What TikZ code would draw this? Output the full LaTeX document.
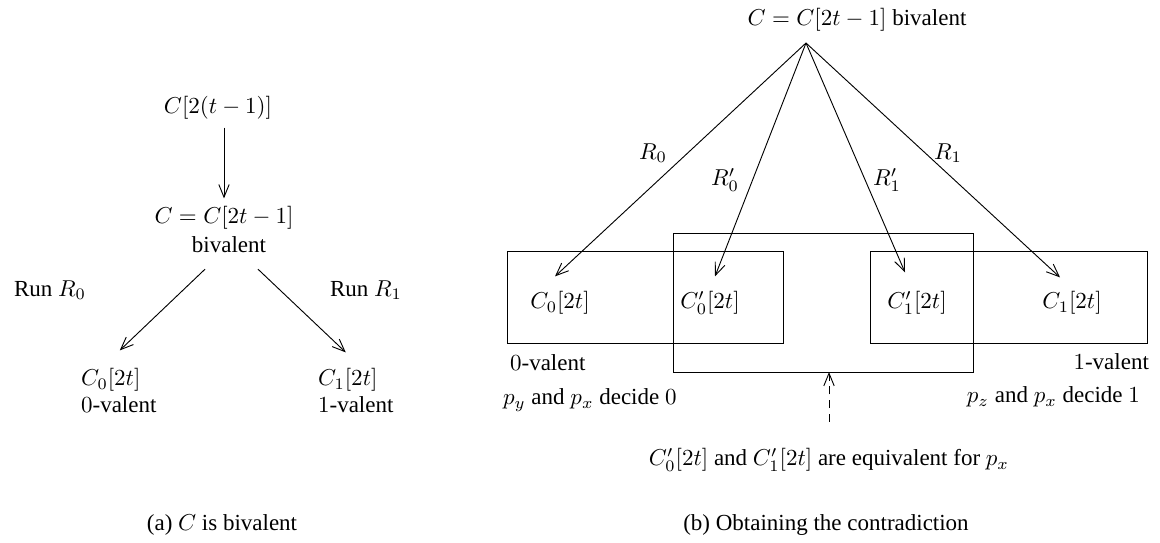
\documentclass[tikz,border=0pt]{standalone}
\usepackage[no-math]{fontspec}
\setmainfont{Liberation Serif}
\usetikzlibrary{arrows.meta}

\begin{document}
\begin{tikzpicture}[x=0.435pt,y=-0.435pt,
  arr/.style={-{Straight Barb[length=5.5pt,width=4.5pt]}},
  runbox/.style={draw}]
\useasboundingbox (0,0) rectangle (1160,543);

% (a) C is bivalent
\node (prev) at (218,108) {$C[2(t-1)]$};
\node (cur) at (224,218) {$C=C[2t-1]$};
\node (biv) at (229,245) {bivalent};
\node (runa) at (50,290) {Run $R_0$};
\node (runb) at (366,290) {Run $R_1$};
\node[anchor=west] (czero) at (73,380) {$C_0[2t]$};
\node[anchor=west] (vzero) at (73,405) {$0$-valent};
\node[anchor=west] (cone) at (310,380) {$C_1[2t]$};
\node[anchor=west] (vone) at (310,405) {$1$-valent};

\draw[arr] (cur.north |- prev.south) -- (cur.north);
\draw[arr] ([shift={(-24,8)}]biv.south) -- ([shift={(9,-10)}]czero.north);
\draw[arr] ([shift={(29,8)}]biv.south) -- ([shift={(-2,-8)}]cone.north);

\node (capa) at (222,525) {(a) $C$ is bivalent};

% (b) Obtaining the contradiction
\node (top) at (857,20) {$C=C[2t-1]$ bivalent};
\coordinate (apex) at (806,43);

\draw (507,251) rectangle (783,343);
\draw (673,233) rectangle (973,372);
\draw (870,251) rectangle (1147,343);

\node (cl) at (560,303) {$C_0[2t]$};
\node (clp) at (710,303) {$C'_0[2t]$};
\node (crp) at (917,303) {$C'_1[2t]$};
\node (cr) at (1072,303) {$C_1[2t]$};

\draw[arr] (apex) -- ([shift={(-5,-7)}]cl.north);
\draw[arr] (apex) -- ([shift={(5,-7)}]clp.north);
\draw[arr] (apex) -- ([shift={(-12,-11)}]crp.north);
\draw[arr] (apex) -- ([shift={(-12,-6)}]cr.north);

\node (rl) at (653,153) {$R_0$};
\node (rlp) at (725,180) {$R'_0$};
\node (rrp) at (887,180) {$R'_1$};
\node (rr) at (948,153) {$R_1$};

\node[anchor=west] (vl) at (502,363) {$0$-valent};
\node[anchor=west] (dl) at (495,400) {$p_y$ and $p_x$ decide $0$};
\node[anchor=east] (vr) at (1157,362) {$1$-valent};
\node[anchor=east] (dr) at (1148,397) {$p_z$ and $p_x$ decide $1$};

\coordinate (midbot) at (829,372);
\node (equiv) at (829,460) {$C'_0[2t]$ and $C'_1[2t]$ are equivalent for $p_x$};
\draw[arr,dash pattern=on 3.5pt off 2.5pt] ([yshift=8]equiv.north -| midbot) -- (midbot);

\node (capb) at (826,525) {(b) Obtaining the contradiction};

\end{tikzpicture}
\end{document}
